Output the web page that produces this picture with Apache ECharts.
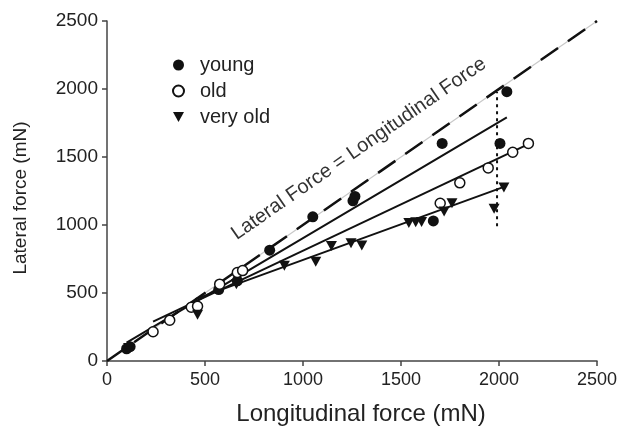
<!DOCTYPE html>
<html><head><meta charset="utf-8">
<script src="https://cdn.jsdelivr.net/npm/echarts@6/dist/echarts.min.js"></script>
<style>html,body{margin:0;padding:0;background:#fff}#c{width:621px;height:434px}</style>
</head><body><div id="c"></div>
<script>
const xTicks = [0, 500, 1000, 1500, 2000, 2500];
const yTicks = [0, 500, 1000, 1500, 2000, 2500];
const young = [[100,90],[118,105],[570,525],[665,590],[830,815],[1050,1060],[1255,1178],[1265,1210],[1665,1030],[1710,1600],[2005,1600],[2040,1980]];
const old = [[235,215],[320,300],[430,395],[462,402],[575,565],[665,650],[692,665],[1700,1160],[1800,1310],[1945,1420],[2070,1535],[2150,1600]];
const veryOld = [[110,95],[462,340],[660,565],[905,700],[1065,730],[1145,845],[1245,865],[1300,850],[1540,1015],[1575,1020],[1605,1022],[1720,1100],[1760,1160],[1975,1120],[2025,1275]];
const identityLine = [[0,0],[2500,2500]];
const youngFit = [[100,135],[2040,1792]];
const oldFit = [[235,290],[2150,1595]];
const veryOldFit = [[450,455],[2025,1280]];
const dropLine = [[1990,990],[1990,1978]];
const annotation = {text: 'Lateral Force = Longitudinal Force', x: 1285, y: 1560};

const font = 'Liberation Sans, Arial, sans-serif';
const tri = 'path://M0,0 L10,0 L5,9 Z';
const chart = echarts.init(document.getElementById('c'));
function lineSeries(data, style) {
  return {type: 'line', data: data, symbol: 'none', silent: true, lineStyle: style, z: 2, animation: false};
}
chart.setOption({
  animation: false,
  grid: {left: 107, right: 24, top: 21, bottom: 73},
  xAxis: {
    type: 'value', min: 0, max: 2500, interval: 500,
    name: 'Longitudinal force (mN)', nameLocation: 'middle', nameGap: 41,
    nameTextStyle: {fontFamily: font, fontSize: 24, color: '#222', padding: [0, 0, 0, 18]},
    axisLine: {onZero: false, lineStyle: {color: '#444', width: 1.5}},
    axisTick: {length: 5, lineStyle: {color: '#444', width: 1.5}},
    axisLabel: {fontFamily: font, fontSize: 18, color: '#222', margin: 10, formatter: v => String(v)},
    splitLine: {show: false}
  },
  yAxis: {
    type: 'value', min: 0, max: 2500, interval: 500,
    name: 'Lateral force (mN)', nameLocation: 'middle', nameGap: 77,
    nameTextStyle: {fontFamily: font, fontSize: 19, color: '#222', padding: [0, 14, 0, 0]},
    axisLine: {show: true, onZero: false, lineStyle: {color: '#444', width: 1.5}},
    axisTick: {show: true, length: 5, lineStyle: {color: '#444', width: 1.5}},
    axisLabel: {fontFamily: font, fontSize: 19, color: '#222', margin: 9, formatter: v => String(v)},
    splitLine: {show: false}
  },
  legend: {
    orient: 'vertical', left: 167, top: 50, itemGap: 6, itemWidth: 11, itemHeight: 11,
    textStyle: {fontFamily: font, fontSize: 20, color: '#222', padding: [0,0,0,11]},
    data: ['young', 'old', {name: 'very old', icon: tri}]
  },
  series: [
    lineSeries(identityLine, {color: '#c8c8c8', width: 1.2}),
    lineSeries(identityLine, {color: '#111', width: 2.5, type: [21, 12]}),
    lineSeries(youngFit, {color: '#111', width: 2}),
    lineSeries(oldFit, {color: '#111', width: 2}),
    lineSeries(veryOldFit, {color: '#111', width: 2}),
    lineSeries(dropLine, {color: '#111', width: 2, type: [3, 4]}),
    {name: 'young', type: 'scatter', data: young, symbol: 'circle', symbolSize: 11,
      itemStyle: {color: '#111', opacity: 1}, z: 5},
    {name: 'old', type: 'scatter', data: old, symbol: 'circle', symbolSize: 10,
      itemStyle: {color: '#fff', borderColor: '#111', borderWidth: 1.5, opacity: 1}, z: 5},
    {name: 'very old', type: 'scatter', data: veryOld, symbol: tri, symbolSize: [11, 10],
      itemStyle: {color: '#111', opacity: 1}, z: 5}
  ]
});
const p = chart.convertToPixel({gridIndex: 0}, [annotation.x, annotation.y]);
const p0 = chart.convertToPixel({gridIndex: 0}, [0, 0]);
const p1 = chart.convertToPixel({gridIndex: 0}, [2500, 2500]);
const ang = Math.atan2(p0[1] - p1[1], p1[0] - p0[0]);
chart.setOption({graphic: [{
  type: 'text', x: p[0], y: p[1], rotation: ang,
  style: {text: annotation.text, font: '20px ' + font, fill: '#333', align: 'center', verticalAlign: 'middle'}
}]});
</script></body></html>
